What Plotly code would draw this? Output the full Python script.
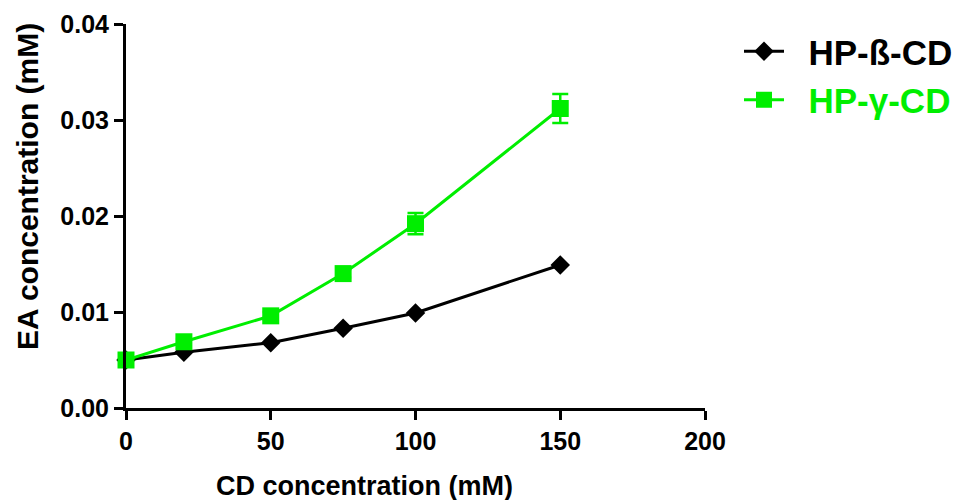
import plotly.graph_objects as go

x_vals = [0, 20, 50, 75, 100, 150]
beta_vals = [0.005, 0.0058, 0.0068, 0.0083, 0.0099, 0.0149]
gamma_vals = [0.005, 0.0069, 0.0096, 0.0140, 0.0192, 0.0312]
gamma_err = [0.0002, 0.0003, 0.0004, 0.0004, 0.0011, 0.0015]

x_ticks = [0, 50, 100, 150, 200]
y_ticks = [0.0, 0.01, 0.02, 0.03, 0.04]

font = "Liberation Sans, Arial, sans-serif"
green = "#00ee00"

fig = go.Figure()
fig.add_trace(go.Scatter(
    x=x_vals, y=beta_vals, name="&nbsp;&nbsp;<b>HP-ß-CD</b>", mode="lines+markers",
    line=dict(color="black", width=3),
    marker=dict(symbol="diamond", size=15, color="black"),
    cliponaxis=False,
))
fig.add_trace(go.Scatter(
    x=x_vals, y=gamma_vals, name=f"&nbsp;&nbsp;<b><span style='color:{green}'>HP-γ-CD</span></b>",
    mode="lines+markers",
    line=dict(color=green, width=3),
    marker=dict(symbol="square", size=17, color=green),
    error_y=dict(type="data", array=gamma_err, color=green, thickness=2.5, width=8),
    cliponaxis=False,
))

axis_common = dict(
    showline=True, linecolor="black", linewidth=3,
    ticks="outside", ticklen=9, tickwidth=3, tickcolor="black",
    showgrid=False, zeroline=False, automargin=False,
    tickfont=dict(family=font, size=25, color="black", weight="bold"),
)
fig.update_xaxes(range=[0, 200], tickvals=x_ticks, **axis_common)
fig.update_yaxes(range=[0, 0.04], tickvals=y_ticks, tickformat=".2f", **axis_common)

# page body has an 8px margin; target plot area in window: x 126..705, y 24..408
off = 8
pw, ph = 579, 384
fig.add_annotation(text="<b>CD concentration (mM)</b>", xref="paper", yref="paper",
                   x=(364 - 126) / pw, y=(408 - 486) / ph, showarrow=False,
                   xanchor="center", yanchor="middle",
                   font=dict(family=font, size=27, color="black"))
fig.add_annotation(text="<b>EA concentration (mM)</b>", xref="paper", yref="paper",
                   x=(27 - 126) / pw, y=(408 - 187) / ph, showarrow=False, textangle=-90,
                   xanchor="center", yanchor="middle",
                   font=dict(family=font, size=30, color="black"))

W = 960 - off
fig.update_layout(
    width=W, height=500 - off,
    margin=dict(l=126 - off, r=W - (126 - off) - pw, t=24 - off, b=92, autoexpand=False),
    plot_bgcolor="white", paper_bgcolor="white",
    showlegend=True,
    legend=dict(x=(739 - 126) / pw, y=(408 - 22) / ph, xanchor="left", yanchor="top",
                font=dict(family=font, size=35, color="black"), tracegroupgap=0,
                itemwidth=40),
)

fig.write_html("out.html")
